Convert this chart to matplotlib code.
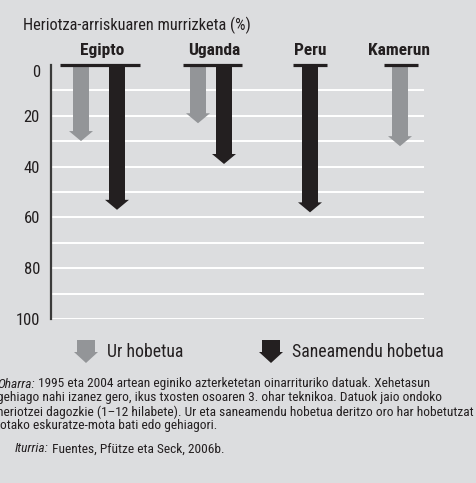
import matplotlib
matplotlib.use('Agg')
import matplotlib.pyplot as plt
from matplotlib.patches import FancyArrow

plt.rcParams['font.family'] = ['Roboto Condensed', 'DejaVu Sans']

# data (% reduction in mortality risk)
countries = ['Egipto', 'Uganda', 'Peru', 'Kamerun']
water = [30, 23, None, 32]        # Ur hobetua
sanitation = [57, 39, 58, None]   # Saneamendu hobetua
yticks = [0, 20, 40, 60, 80, 100]

note_lines = [
    '1995 eta 2004 artean eginiko azterketetan oinarrituriko datuak. Xehetasun',
    'gehiago nahi izanez gero, ikus txosten osoaren 3. ohar teknikoa. Datuok jaio ondoko',
    'heriotzei dagozkie (1\u201312 hilabete). Ur eta saneamendu hobetua deritzo oro har hobetutzat',
    'jotako eskuratze-mota bati edo gehiagori.',
]
source = 'Fuentes, Pfütze eta Seck, 2006b.'

# layout (pixels)
W, H = 477, 483
BG = '#dcdddf'
GRAY = '#939598'
BLACK = '#231f20'
water_x = [81, 198, None, 400]
san_x = [117, 224, 310, None]
label_x = [102, 214, 310, 399]
caps = [(60, 140), (183, 242), (293, 327), (384, 418)]
top_px, bot_px = 64.7, 319.3
px_per_unit = (bot_px - top_px) / 100

fig = plt.figure(figsize=(W / 100, H / 100), dpi=100, facecolor=BG)

# background overlay in pixel coordinates for title, legend and notes
ov = fig.add_axes([0, 0, 1, 1])
ov.set_xlim(0, W)
ov.set_ylim(H, 0)
ov.axis('off')

ax = fig.add_axes([51 / W, 1 - bot_px / H, (424 - 51) / W, (bot_px - top_px) / H])
ax.set_xlim(51, 424)
ax.set_ylim(100, 0)
ax.patch.set_visible(False)
for s in ['top', 'right', 'bottom']:
    ax.spines[s].set_visible(False)
ax.spines['left'].set_color('#3a3a3a')
ax.spines['left'].set_linewidth(1.6)
ax.set_xticks([])
ax.set_yticks(yticks)
ax.tick_params(axis='y', length=0, pad=8, labelsize=12, labelcolor=BLACK)
ax.yaxis.get_major_ticks()[0].label1.set_verticalalignment('top')
ax.hlines(range(10, 101, 10), 51, 424, color='white', lw=1.4, zorder=0)


def down_arrow(x, val, color):
    ax.add_patch(FancyArrow(x, 0, 0, val, width=16, head_width=24,
                            head_length=10 / px_per_unit, length_includes_head=True,
                            color=color, lw=0, zorder=3))


for i, name in enumerate(countries):
    if water[i] is not None:
        down_arrow(water_x[i], water[i], GRAY)
    if sanitation[i] is not None:
        down_arrow(san_x[i], sanitation[i], BLACK)
    ax.hlines(0, caps[i][0], caps[i][1], color=BLACK, lw=2.3, zorder=4, clip_on=False)
    ax.text(label_x[i], -5.4, name, ha='center', va='center', fontsize=12.5,
            fontweight='bold', color=BLACK, clip_on=False)

ov.text(23, 25, 'Heriotza-arriskuaren murrizketa (%)', fontsize=11.8,
        va='center', color=BLACK)

# legend
for x, col, lab, tx in [(86, GRAY, 'Ur hobetua', 107),
                        (271, BLACK, 'Saneamendu hobetua', 292)]:
    ov.add_patch(FancyArrow(x, 340, 0, 23, width=18, head_width=24, head_length=11,
                            length_includes_head=True, color=col, lw=0))
    ov.text(tx, 352, lab, fontsize=12.8, va='center', color=BLACK)

# notes
t = ov.text(-3, 384, 'Oharra:', fontsize=9.6, style='italic', va='center', color=BLACK)
ov.annotate(' ' + note_lines[0], xy=(1, 0), xycoords=t, va='bottom', fontsize=9.6, color=BLACK)
for k, line in enumerate(note_lines[1:], start=1):
    ov.text(-3, 384 + 14 * k, line, fontsize=9.6, va='center', color=BLACK)
t = ov.text(15, 449, 'Iturria:', fontsize=9.6, style='italic', va='center', color=BLACK)
ov.annotate(' ' + source, xy=(1, 0), xycoords=t, va='bottom', fontsize=9.6, color=BLACK)

fig.savefig('out.png', dpi=100, facecolor=BG)
